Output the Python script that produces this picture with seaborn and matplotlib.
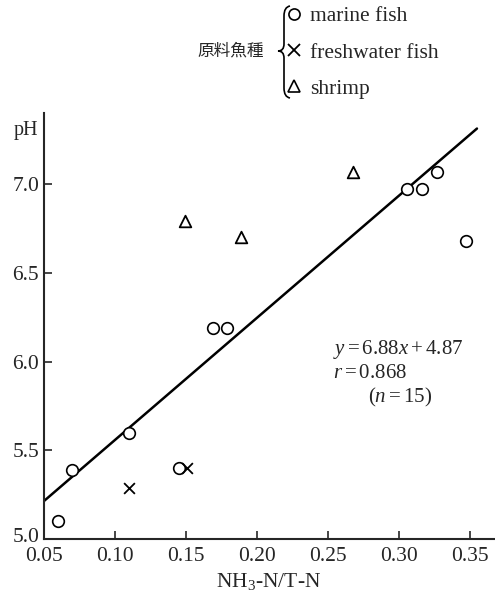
import numpy as np
import pandas as pd
import matplotlib
matplotlib.use("Agg")
import matplotlib.pyplot as plt
from matplotlib.path import Path
from matplotlib.patches import PathPatch
from matplotlib.lines import Line2D
from matplotlib.transforms import ScaledTranslation
import seaborn as sns

# pH vs NH3-N/T-N by raw material species
marine_x = [0.06, 0.07, 0.11, 0.145, 0.169, 0.179, 0.306, 0.316, 0.327, 0.347]
marine_y = [5.10, 5.39, 5.60, 5.40, 6.19, 6.19, 6.97, 6.97, 7.07, 6.68]
fresh_x = [0.110, 0.151]
fresh_y = [5.29, 5.40]
shrimp_x = [0.149, 0.189, 0.268]
shrimp_y = [6.79, 6.70, 7.07]

# regression line  y = 6.88x + 4.87
slope = 6.88
intercept = 4.87
fit_x = [0.05, 0.355]

x_ticks = [0.05, 0.10, 0.15, 0.20, 0.25, 0.30, 0.35]
y_ticks = [5.0, 5.5, 6.0, 6.5, 7.0]

sns.set_style("ticks")
plt.rcParams['font.family'] = ['Liberation Serif', 'Noto Sans CJK JP', 'DejaVu Serif']
plt.rcParams['mathtext.fontset'] = 'custom'
plt.rcParams['mathtext.rm'] = 'Liberation Serif'
plt.rcParams['mathtext.it'] = 'Liberation Serif:italic'

fig = plt.figure(figsize=(4.95, 6.0), dpi=100)
ax = fig.add_axes([44 / 495, 61 / 600, 450 / 495, 426 / 600])

fit = pd.DataFrame({"x": fit_x})
fit["y"] = slope * fit["x"] + intercept
sns.lineplot(data=fit, x="x", y="y", color="black", linewidth=1.8, ax=ax)

sns.scatterplot(x=marine_x, y=marine_y, marker="o", s=70, facecolor="white",
                edgecolor="black", linewidth=1.2, ax=ax, zorder=3)
sns.scatterplot(x=fresh_x, y=fresh_y, marker="x", s=60, color="black",
                linewidth=1.3, ax=ax, zorder=3)
sns.scatterplot(x=shrimp_x, y=shrimp_y, marker="^", s=70, facecolor="white",
                edgecolor="black", linewidth=1.3, ax=ax, zorder=3)

ax.set_xlim(0.05, 0.367)
ax.set_ylim(5.0, 7.4)
ax.set_xticks(x_ticks)
ax.set_xticklabels(["%.2f" % t for t in x_ticks])
ax.set_yticks(y_ticks)
ax.set_yticklabels(["%.1f" % t for t in y_ticks], va="center_baseline")
ax.tick_params(direction="in", length=6, width=1.2, labelsize=15.5)
ax.tick_params(axis="y", pad=3.5)
ax.tick_params(axis="x", pad=6)
sns.despine(ax=ax)
for s in ["left", "bottom"]:
    ax.spines[s].set_linewidth(1.5)
ax.set_xlabel(r"NH$_3$-N/T-N", fontsize=15.5, labelpad=3)
ax.set_ylabel("")

# nudge the corner label "5.0" up so it clears "0.05"
lab0 = ax.yaxis.get_major_ticks()[0].label1
lab0.set_transform(lab0.get_transform() + ScaledTranslation(0, 3 / 72, fig.dpi_scale_trans))

fig.text(26 / 495, 1 - 131 / 600, "pH", fontsize=14.5, ha="center", va="center")

ax.text(0.2535, 6.065, r"$y=6.88x+4.87$", fontsize=15, va="center")
ax.text(0.2535, 5.93, r"$r=0.868$", fontsize=15, va="center")
ax.text(0.278, 5.80, r"$(n=15)$", fontsize=15, va="center")

# legend with brace
handles = [
    Line2D([], [], marker="o", linestyle="none", markersize=8, markerfacecolor="white",
           markeredgecolor="black", markeredgewidth=1.2),
    Line2D([], [], marker="x", linestyle="none", markersize=8, color="black",
           markeredgewidth=1.3),
    Line2D([], [], marker="^", linestyle="none", markersize=8, markerfacecolor="white",
           markeredgecolor="black", markeredgewidth=1.2),
]
labels = ["marine fish", "freshwater fish", "shrimp"]
fig.legend(handles, labels, loc="upper left", bbox_to_anchor=(285 / 495, 1 - 6 / 600),
           frameon=False, fontsize=15.5, handlelength=0.8, handletextpad=0.35,
           labelspacing=0.76, borderpad=0, borderaxespad=0)

fig.text(231 / 495, 1 - 51 / 600, "原料魚種", fontsize=12, ha="center", va="center",
         family=['Noto Sans CJK JP', 'DejaVu Sans'])

def px(x, y):
    return (x / 495, 1 - y / 600)

verts = [px(290, 6), px(284, 7), px(284, 16),
         px(284, 44),
         px(284, 51), px(278, 51),
         px(284, 51), px(284, 58),
         px(284, 88),
         px(284, 97), px(290, 98)]
codes = [Path.MOVETO, Path.CURVE3, Path.CURVE3,
         Path.LINETO,
         Path.CURVE3, Path.CURVE3,
         Path.CURVE3, Path.CURVE3,
         Path.LINETO,
         Path.CURVE3, Path.CURVE3]
fig.add_artist(PathPatch(Path(verts, codes), facecolor="none", edgecolor="black",
                         linewidth=1.2, transform=fig.transFigure))

plt.savefig("out.png", dpi=100)
